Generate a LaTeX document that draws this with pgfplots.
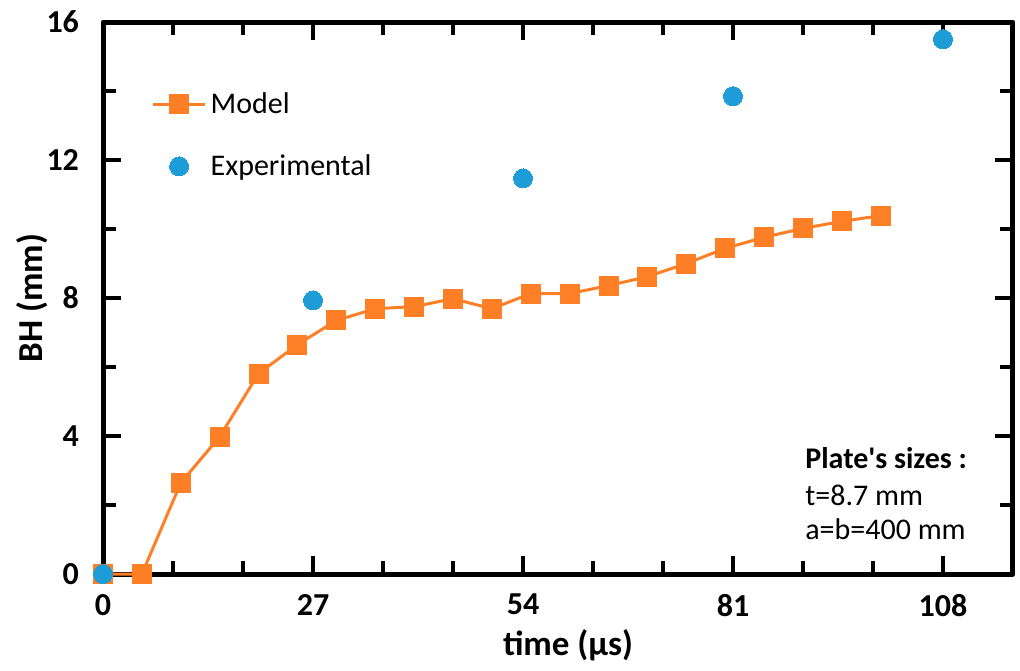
\documentclass[border=0pt]{standalone}
\usepackage{fontspec}
\setmainfont{Carlito}
\usepackage{pgfplots}
\pgfplotsset{compat=1.18}
\definecolor{morange}{RGB}{255,127,39}
\definecolor{mblue}{RGB}{30,156,215}
\begin{document}
\begin{tikzpicture}
\begin{axis}[
  scale only axis,
  width=455pt, height=276pt,
  xmin=0, xmax=117, ymin=0, ymax=16,
  xtick={0,27,54,81,108},
  minor xtick={9,18,36,45,63,72,90,99},
  ytick={0,4,8,12,16},
  minor ytick={2,6,10,14},
  tick align=inside,
  major tick length=9pt,
  minor tick length=6.5pt,
  every tick/.style={black, line width=2pt},
  axis line style={line width=2.5pt, line join=round, line cap=round},
  /pgf/number format/assume math mode=true,
  ticklabel style={font=\fontsize{16}{19}\selectfont\bfseries},
  xticklabel style={yshift=-6.5pt},
  yticklabel style={xshift=-8.5pt},
  xlabel={time (µs)},
  ylabel={BH (mm)},
  every axis x label/.style={at={(rel axis cs:0.511,-0.129)}, anchor=center, font=\fontsize{17.5}{20}\selectfont\bfseries},
  every axis y label/.style={at={(rel axis cs:-0.078,0.5)}, anchor=center, rotate=90, font=\fontsize{17.5}{20}\selectfont\bfseries},
  clip=false,
  legend style={draw=none, fill=none, at={(rel axis cs:0.053,0.873)}, anchor=north west,
    font=\fontsize{15}{18}\selectfont, inner sep=0pt, row sep=19pt, column sep=2pt,
    nodes={inner sep=0pt}},
  legend cell align=left,
  legend image code/.code={\draw[mark repeat=2,mark phase=2,#1] plot coordinates {(0pt,0pt) (13pt,0pt) (26pt,0pt)};},
]
\addplot[color=morange, line width=1.5pt, mark=square*, mark size=4.75pt, mark options={solid, fill=morange, draw=morange, line width=0pt}] coordinates {
(0,0) (5,0) (10,2.64) (15,3.98) (20,5.81) (25,6.65) (30,7.35) (35,7.69) (40,7.75) (45,7.98) (50,7.69) (55,8.13) (60,8.13) (65,8.36) (70,8.62) (75,9.0) (80,9.44) (85,9.76) (90,10.02) (95,10.22) (100,10.39)
};
\addlegendentry{Model}
\addplot[only marks, mark=*, mark size=4.75pt, mark options={fill=mblue, draw=mblue, line width=0pt}] coordinates {
(0,0) (27,7.93) (54,11.47) (81,13.85) (108,15.5)
};
\addlegendentry{Experimental}
\node[anchor=base west, inner sep=0pt, font=\fontsize{15}{18}\selectfont] at (rel axis cs:0.7714,0.192) {\textbf{Plate\textquotesingle s sizes :}};
\node[anchor=base west, inner sep=0pt, font=\fontsize{15}{18}\selectfont] at (rel axis cs:0.7714,0.125) {t=8.7 mm};
\node[anchor=base west, inner sep=0pt, font=\fontsize{15}{18}\selectfont] at (rel axis cs:0.7714,0.0634) {a=b=400 mm};
\path (rel axis cs:-0.1132,-0.1739) rectangle (rel axis cs:1.0077,1.0399);
\end{axis}
\end{tikzpicture}
\end{document}
